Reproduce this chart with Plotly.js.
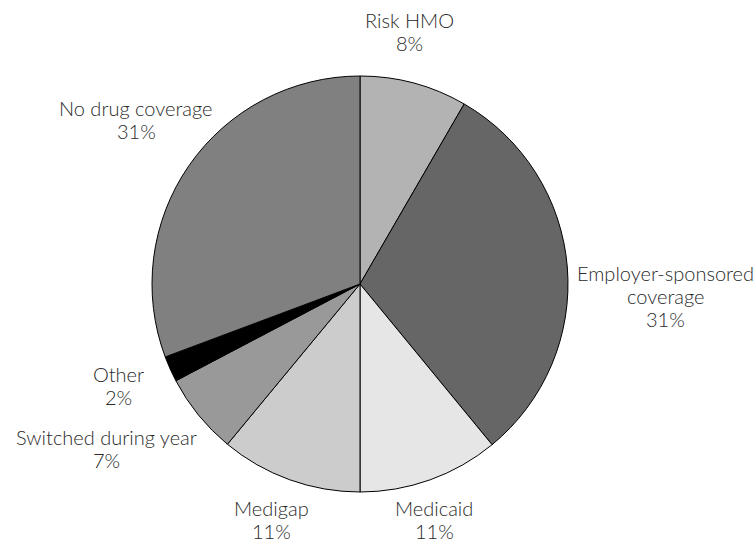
<!DOCTYPE html>
<html>
<head>
<meta charset="utf-8">
<script src="https://cdn.plot.ly/plotly-3.0.1.min.js"></script>
<style>html,body{margin:0;padding:0;background:#fff;}#chart{width:756px;height:543px;}</style>
</head>
<body>
<div id="chart"></div>
<script>
// Data
const categories = ["Risk HMO", "Employer-sponsored<br>coverage", "Medicaid", "Medigap", "Switched during year", "Other", "No drug coverage"];
const shares = [8.35, 30.7, 10.95, 11.0, 6.3, 2.0, 30.7];
const shareLabels = ["8%", "31%", "11%", "11%", "7%", "2%", "31%"];
const sliceColors = ["#b3b3b3", "#666666", "#e6e6e6", "#cccccc", "#999999", "#000000", "#808080"];

// Label placement: [center x px, first baseline px, line step px]
const labelPos = [[409, 28, 23], [665, 280.5, 23], [434, 516, 23], [271, 516, 23], [106, 445, 23], [118, 382, 23], [136, 116, 23]];

const W = 756, H = 543, FS = 20;
const annotations = [];
categories.forEach((c, i) => {
  const lines = c.split("<br>").concat([shareLabels[i]]);
  lines.forEach((ln, j) => {
    const baseline = labelPos[i][1] + j * labelPos[i][2];
    annotations.push({
      text: ln,
      x: labelPos[i][0] / W, y: 1 - (baseline - 0.38 * FS) / H,
      xref: "paper", yref: "paper", xanchor: "center", yanchor: "middle",
      showarrow: false, align: "center", borderpad: 0,
      font: {family: "Lato, 'Noto Sans', sans-serif", size: FS, color: "#2a2a2a", weight: 300}
    });
  });
});

const trace = {
  type: "pie",
  labels: categories,
  values: shares,
  sort: false,
  direction: "clockwise",
  rotation: 0,
  textinfo: "none",
  hoverinfo: "skip",
  marker: {colors: sliceColors, line: {color: "#000000", width: 1}},
  domain: {x: [152 / W, 568 / W], y: [1 - 492 / H, 1 - 76 / H]}
};

Plotly.newPlot("chart", [trace], {
  width: W, height: H,
  margin: {l: 0, r: 0, t: 0, b: 0},
  paper_bgcolor: "#ffffff",
  showlegend: false,
  annotations: annotations
}, {staticPlot: true, displayModeBar: false});
</script>
</body>
</html>
